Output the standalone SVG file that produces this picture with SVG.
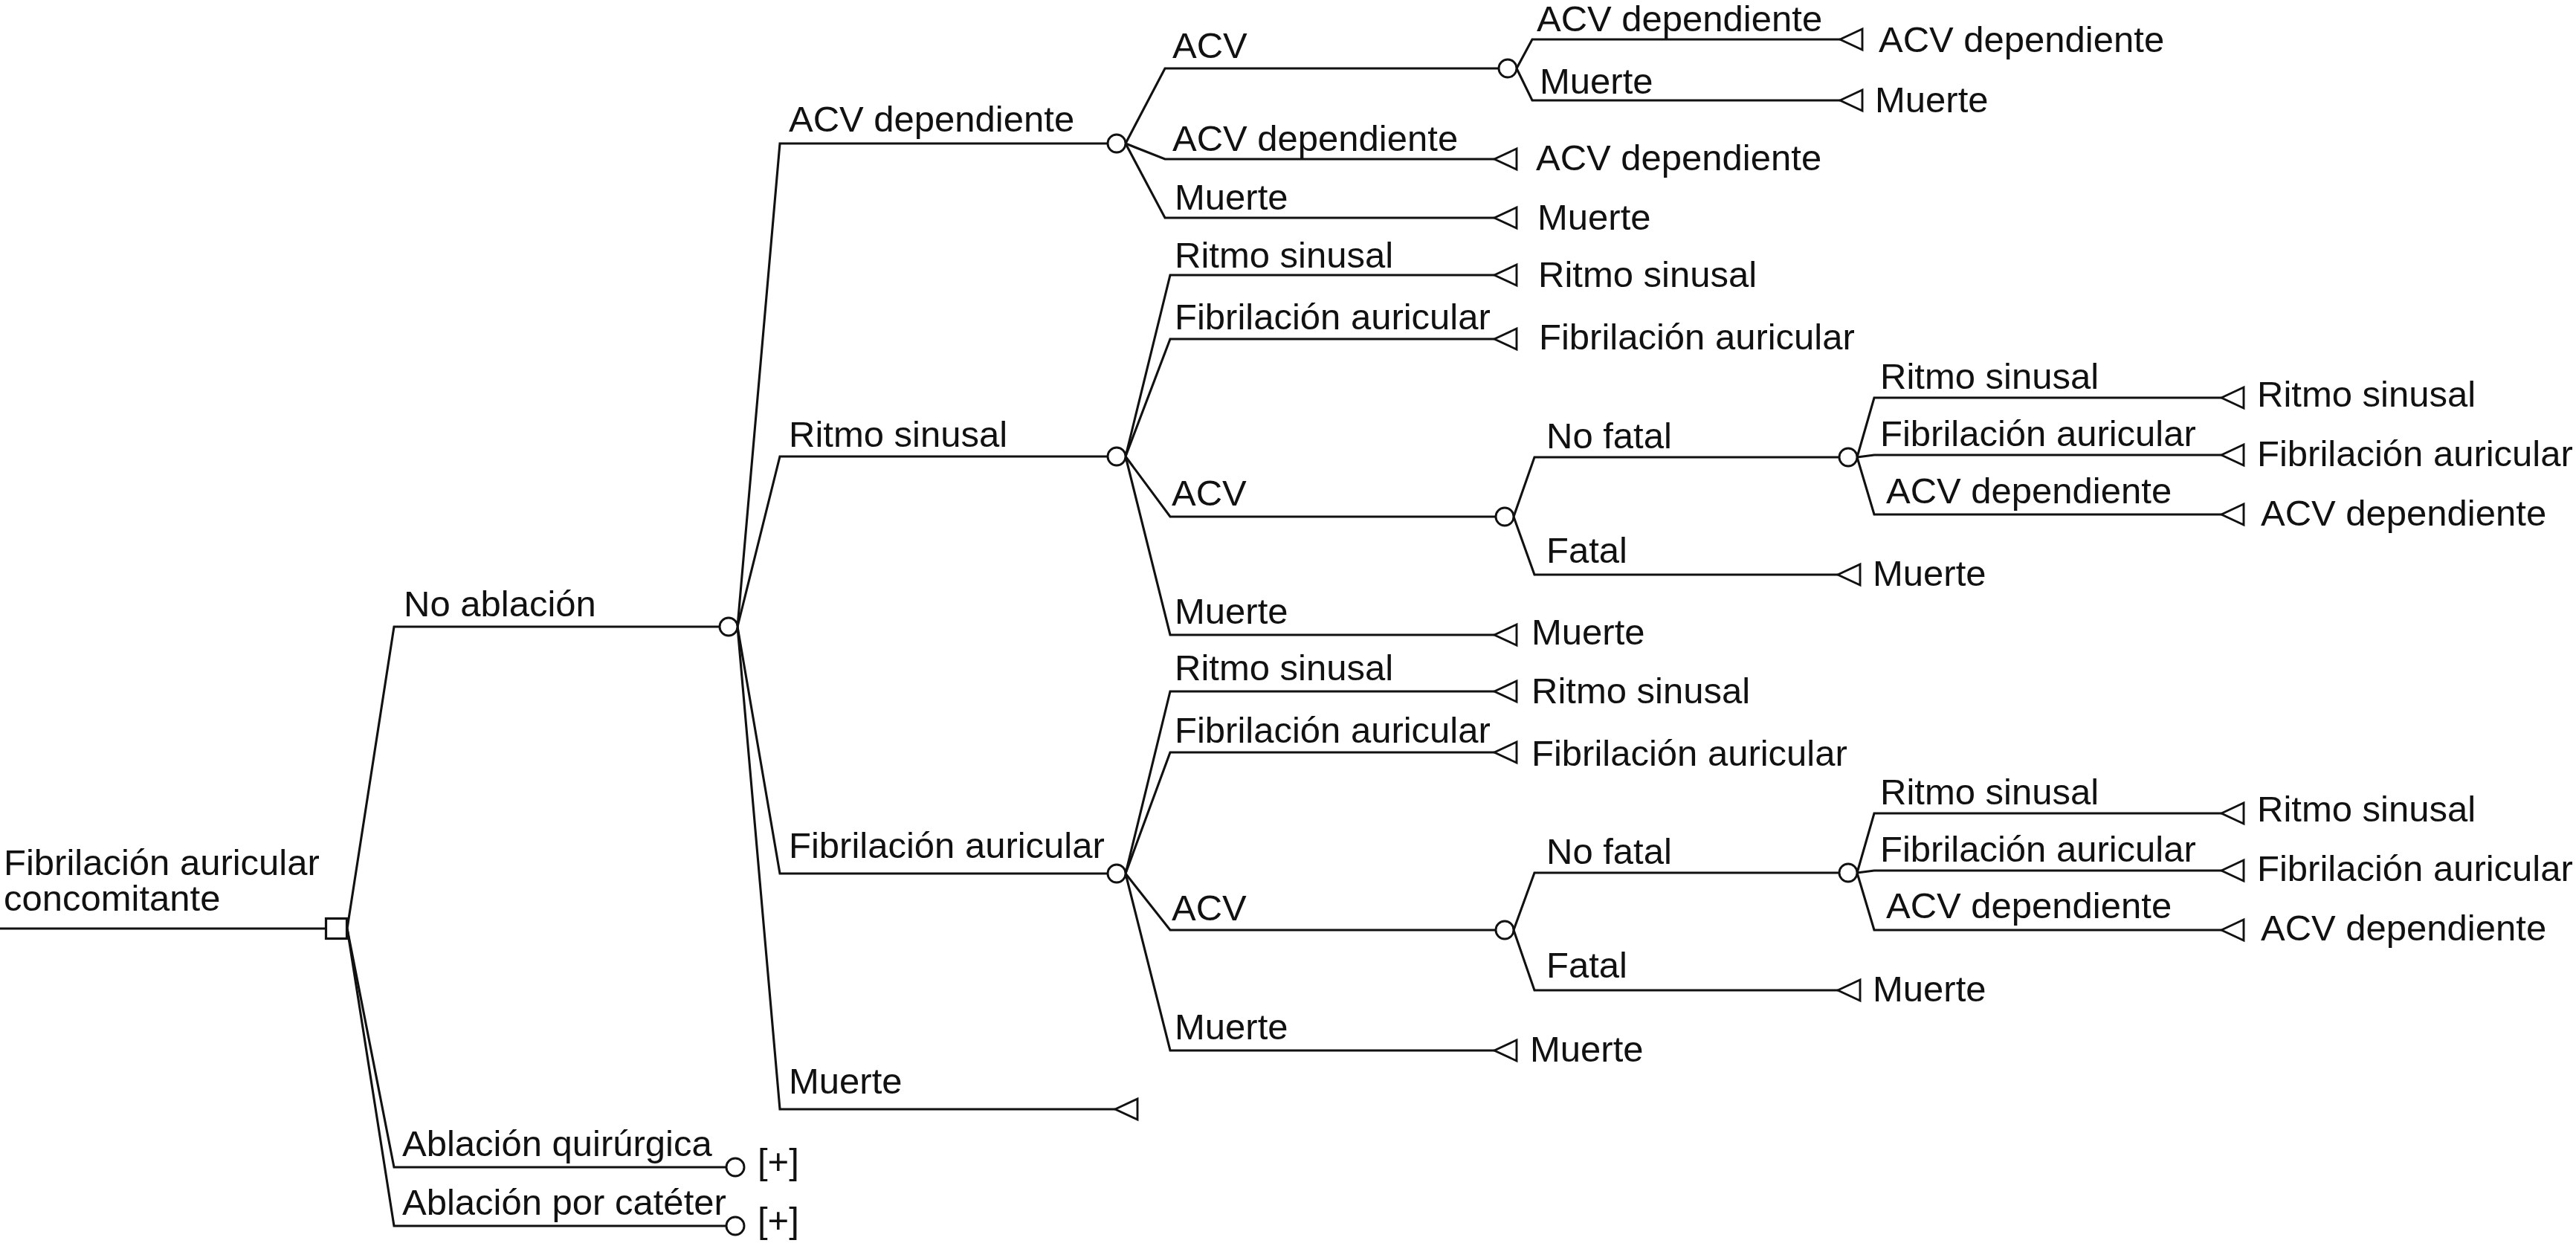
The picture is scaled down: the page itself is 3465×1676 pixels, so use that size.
<svg xmlns="http://www.w3.org/2000/svg" xmlns:xlink="http://www.w3.org/1999/xlink" width="3465" height="1676" viewBox="0 0 3465 1676">
<style>
.ln{fill:none;stroke:#111;stroke-width:3.1;stroke-linejoin:miter}
.ch{fill:#fff;stroke:#111;stroke-width:2.9}
.dc{fill:#fff;stroke:#111;stroke-width:3.2}
text{font-family:"Liberation Sans",Arial,Helvetica,sans-serif;font-size:49px;fill:#111}
</style>
<defs>
<path id="tri" d="M0,0 L30,-14 L30,14 Z" fill="#fff" stroke="#111" stroke-width="2.9"/>
</defs>
<rect width="3465" height="1676" fill="#fff"/>
<g id="connectors" class="ln">
<path d="M0,1249 H437"/>
<path d="M467,1249 L530,843 H968"/>
<path d="M467,1249 L530,1570 H977"/>
<path d="M467,1249 L530,1649 H977"/>
<path d="M992,843 L1049,193 H1490"/>
<path d="M992,843 L1049,614 H1490"/>
<path d="M992,843 L1049,1175 H1490"/>
<path d="M992,843 L1049,1492 H1500"/>
<path d="M1514,193 L1567,92 H2016"/>
<path d="M1514,193 L1567,214 H2010"/>
<path d="M1514,193 L1567,293 H2010"/>
<path d="M2040,92 L2061,53 H2475"/>
<path d="M2040,92 L2061,135 H2475"/>
<path d="M1514,614 L1574,370 H2010"/>
<path d="M1514,614 L1574,456 H2010"/>
<path d="M1514,614 L1574,695 H2012"/>
<path d="M1514,614 L1574,854 H2010"/>
<path d="M2036,695 L2064,615 H2474"/>
<path d="M2036,695 L2064,773 H2472"/>
<path d="M2498,615 L2521,535 H2988"/>
<path d="M2498,615 L2521,612 H2988"/>
<path d="M2498,615 L2521,692 H2988"/>
<path d="M1514,1175 L1574,930 H2010"/>
<path d="M1514,1175 L1574,1012 H2010"/>
<path d="M1514,1175 L1574,1251 H2012"/>
<path d="M1514,1175 L1574,1413 H2010"/>
<path d="M2036,1251 L2064,1174 H2474"/>
<path d="M2036,1251 L2064,1332 H2472"/>
<path d="M2498,1174 L2521,1094 H2988"/>
<path d="M2498,1174 L2521,1171 H2988"/>
<path d="M2498,1174 L2521,1251 H2988"/>
</g>
<g id="root">
<rect class="dc" x="438.5" y="1235.5" width="28" height="27"/>
<text x="5" y="1177">Fibrilación auricular</text>
<text x="5" y="1225">concomitante</text>
</g>
<g id="no-ablacion">
<circle class="ch" cx="980" cy="843" r="12"/>
<text x="543" y="829">No ablación</text>
</g>
<g id="ablacion-quirurgica">
<circle class="ch" cx="989" cy="1570" r="12"/>
<text x="541" y="1555">Ablación quirúrgica</text>
<text x="1019" y="1579">[+]</text>
</g>
<g id="ablacion-cateter">
<circle class="ch" cx="989" cy="1649" r="12"/>
<text x="541" y="1634">Ablación por catéter</text>
<text x="1019" y="1658">[+]</text>
</g>
<g id="acv-dependiente">
<circle class="ch" cx="1502" cy="193" r="12"/>
<text x="1061" y="177">ACV dependiente</text>
</g>
<g id="ritmo-sinusal">
<circle class="ch" cx="1502" cy="614" r="12"/>
<text x="1061" y="601">Ritmo sinusal</text>
</g>
<g id="fibrilacion-auricular">
<circle class="ch" cx="1502" cy="1175" r="12"/>
<text x="1061" y="1154">Fibrilación auricular</text>
</g>
<g id="muerte-l2">
<use xlink:href="#tri" href="#tri" x="1500" y="1492"/>
<text x="1061" y="1471">Muerte</text>
</g>
<g id="a-acv">
<circle class="ch" cx="2028" cy="92" r="12"/>
<text x="1577" y="78">ACV</text>
</g>
<g id="a-acvdep">
<use xlink:href="#tri" href="#tri" x="2010" y="214"/>
<text x="1577" y="203">ACV dependiente</text>
<text x="2066" y="229">ACV dependiente</text>
</g>
<g id="a-muerte">
<use xlink:href="#tri" href="#tri" x="2010" y="293"/>
<text x="1580" y="282">Muerte</text>
<text x="2068" y="309">Muerte</text>
</g>
<g id="a-acv-acvdep">
<use xlink:href="#tri" href="#tri" x="2475" y="53"/>
<text x="2067" y="42">ACV dependiente</text>
<text x="2527" y="70">ACV dependiente</text>
</g>
<g id="a-acv-muerte">
<use xlink:href="#tri" href="#tri" x="2475" y="135"/>
<text x="2071" y="126">Muerte</text>
<text x="2522" y="151">Muerte</text>
</g>
<g id="rs-rs">
<use xlink:href="#tri" href="#tri" x="2010" y="370"/>
<text x="1580" y="360">Ritmo sinusal</text>
<text x="2069" y="386">Ritmo sinusal</text>
</g>
<g id="rs-fa">
<use xlink:href="#tri" href="#tri" x="2010" y="456"/>
<text x="1580" y="443">Fibrilación auricular</text>
<text x="2070" y="470">Fibrilación auricular</text>
</g>
<g id="rs-acv">
<circle class="ch" cx="2024" cy="695" r="12"/>
<text x="1576" y="680">ACV</text>
</g>
<g id="rs-muerte">
<use xlink:href="#tri" href="#tri" x="2010" y="854"/>
<text x="1580" y="839">Muerte</text>
<text x="2060" y="867">Muerte</text>
</g>
<g id="rs-acv-nofatal">
<circle class="ch" cx="2486" cy="615" r="12"/>
<text x="2080" y="603">No fatal</text>
</g>
<g id="rs-acv-fatal">
<use xlink:href="#tri" href="#tri" x="2472" y="773"/>
<text x="2080" y="757">Fatal</text>
<text x="2519" y="788">Muerte</text>
</g>
<g id="rs-nf-rs">
<use xlink:href="#tri" href="#tri" x="2988" y="535"/>
<text x="2529" y="523">Ritmo sinusal</text>
<text x="3036" y="547">Ritmo sinusal</text>
</g>
<g id="rs-nf-fa">
<use xlink:href="#tri" href="#tri" x="2988" y="612"/>
<text x="2529" y="600">Fibrilación auricular</text>
<text x="3036" y="627">Fibrilación auricular</text>
</g>
<g id="rs-nf-acvdep">
<use xlink:href="#tri" href="#tri" x="2988" y="692"/>
<text x="2537" y="677">ACV dependiente</text>
<text x="3041" y="707">ACV dependiente</text>
</g>
<g id="fa-rs">
<use xlink:href="#tri" href="#tri" x="2010" y="930"/>
<text x="1580" y="915">Ritmo sinusal</text>
<text x="2060" y="946">Ritmo sinusal</text>
</g>
<g id="fa-fa">
<use xlink:href="#tri" href="#tri" x="2010" y="1012"/>
<text x="1580" y="999">Fibrilación auricular</text>
<text x="2060" y="1030">Fibrilación auricular</text>
</g>
<g id="fa-acv">
<circle class="ch" cx="2024" cy="1251" r="12"/>
<text x="1576" y="1238">ACV</text>
</g>
<g id="fa-muerte">
<use xlink:href="#tri" href="#tri" x="2010" y="1413"/>
<text x="1580" y="1398">Muerte</text>
<text x="2058" y="1428">Muerte</text>
</g>
<g id="fa-acv-nofatal">
<circle class="ch" cx="2486" cy="1174" r="12"/>
<text x="2080" y="1162">No fatal</text>
</g>
<g id="fa-acv-fatal">
<use xlink:href="#tri" href="#tri" x="2472" y="1332"/>
<text x="2080" y="1315">Fatal</text>
<text x="2519" y="1347">Muerte</text>
</g>
<g id="fa-nf-rs">
<use xlink:href="#tri" href="#tri" x="2988" y="1094"/>
<text x="2529" y="1082">Ritmo sinusal</text>
<text x="3036" y="1105">Ritmo sinusal</text>
</g>
<g id="fa-nf-fa">
<use xlink:href="#tri" href="#tri" x="2988" y="1171"/>
<text x="2529" y="1159">Fibrilación auricular</text>
<text x="3036" y="1185">Fibrilación auricular</text>
</g>
<g id="fa-nf-acvdep">
<use xlink:href="#tri" href="#tri" x="2988" y="1251"/>
<text x="2537" y="1235">ACV dependiente</text>
<text x="3041" y="1265">ACV dependiente</text>
</g>
</svg>
